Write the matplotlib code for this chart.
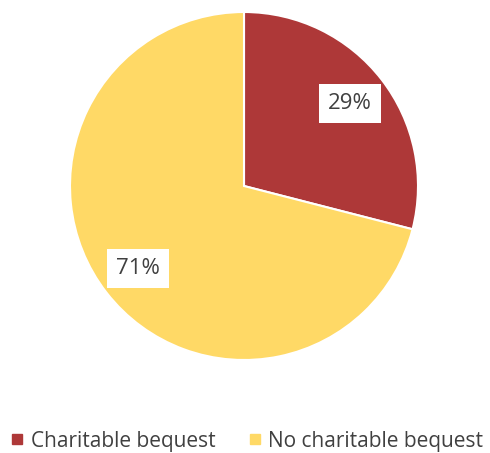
import matplotlib
matplotlib.use("Agg")
import matplotlib.pyplot as plt
from matplotlib.lines import Line2D

categories = ["Charitable bequest", "No charitable bequest"]
shares = [29, 71]
colors = ["#AE3838", "#FFD966"]

plt.rcParams['font.family'] = ['Open Sans', 'DejaVu Sans']

W, H = 490, 453
fig = plt.figure(figsize=(W / 100, H / 100), dpi=100)

cx, cy, r = 244, 186, 174
ax = fig.add_axes([(cx - r) / W, (H - cy - r) / H, 2 * r / W, 2 * r / H])

wedges, texts, autotexts = ax.pie(
    shares,
    colors=colors,
    startangle=90,
    counterclock=False,
    autopct=lambda p: f"{p:.0f}%",
    pctdistance=0.77,
    wedgeprops=dict(edgecolor="white", linewidth=1.5),
    textprops=dict(fontsize=16, color="#404040"),
)
for t in autotexts:
    t.set_bbox(dict(facecolor="white", edgecolor="none", boxstyle="square,pad=0.4"))
ax.set_xlim(-1, 1)
ax.set_ylim(-1, 1)
ax.set_aspect("equal")
ax.axis("off")

handles = [Line2D([0], [0], marker="s", linestyle="none", markersize=7,
                  markerfacecolor=c, markeredgecolor=c) for c in colors]
fig.legend(handles, categories, loc="center", bbox_to_anchor=(0.5, 1 - 441 / H),
           ncol=2, frameon=False, fontsize=15, labelcolor="#404040",
           handletextpad=0.15, columnspacing=1.4, handlelength=1.0,
           borderaxespad=0)

fig.savefig("out.png", dpi=100, facecolor="white")
